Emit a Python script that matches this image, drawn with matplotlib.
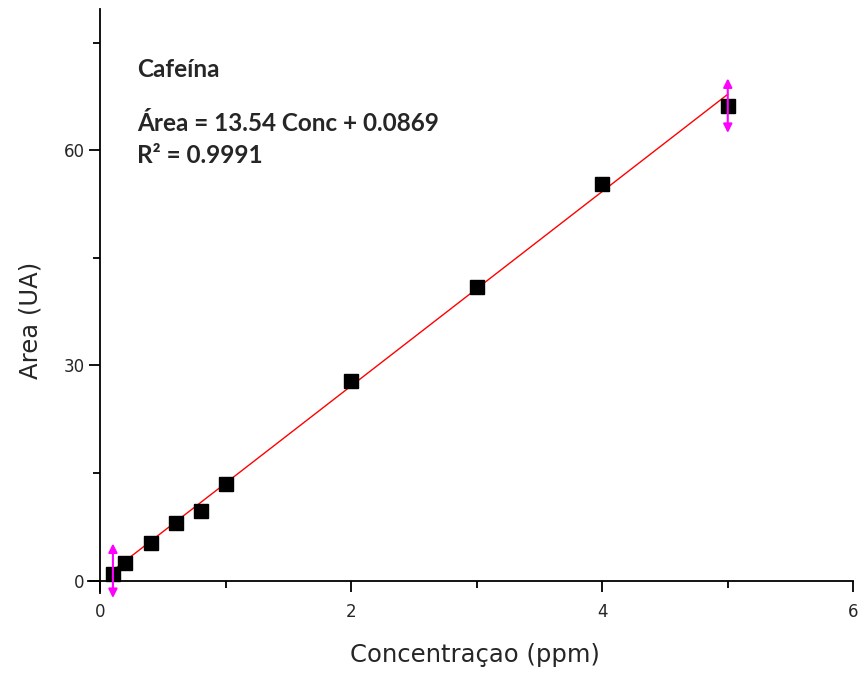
import matplotlib
matplotlib.use("Agg")
from matplotlib import pyplot as plt
from matplotlib.ticker import MultipleLocator
import numpy as np

plt.rcParams['font.family'] = ['DejaVu Sans']

# data
conc = [0.1, 0.2, 0.4, 0.6, 0.8, 1.0, 2.0, 3.0, 4.0, 5.0]
area = [1.0, 2.5, 5.3, 8.1, 9.7, 13.5, 27.8, 40.9, 55.3, 66.2]
slope = 13.54
intercept = 0.0869
fit_range = [0.1, 5.0]

txt_color = '#262626'

fig = plt.figure(figsize=(8.61, 6.75), dpi=100)
ax = fig.add_axes([0.102, 0.1215, 0.889, 0.8655])

xf = np.array(fit_range)
ax.plot(xf, slope * xf + intercept, color='red', lw=1, zorder=2)
ax.plot(conc, area, 's', color='black', ms=9.5, zorder=3)

# fit range markers
for xm, yc in [(0.1, 1.4), (5.0, 66.2)]:
    ax.annotate('', xy=(xm, yc + 3.8), xytext=(xm, yc - 3.8),
                arrowprops=dict(arrowstyle='<|-|>', color='magenta', lw=1.5,
                                mutation_scale=13, shrinkA=0, shrinkB=0),
                annotation_clip=False, zorder=4)

ax.set_xlim(-0.1, 6)
ax.set_ylim(-1.7, 79.7)
ax.spines['left'].set_position(('data', 0))
ax.spines['bottom'].set_position(('data', 0))
ax.spines['top'].set_visible(False)
ax.spines['right'].set_visible(False)
for s in ['left', 'bottom']:
    ax.spines[s].set_linewidth(1.3)

ax.xaxis.set_major_locator(MultipleLocator(2))
ax.xaxis.set_minor_locator(MultipleLocator(1))
ax.yaxis.set_major_locator(MultipleLocator(30))
ax.yaxis.set_minor_locator(MultipleLocator(15))
ax.tick_params(which='major', direction='out', length=8, width=1.3,
               labelsize=12, labelcolor=txt_color)
ax.tick_params(axis='x', which='major', pad=8)
ax.tick_params(which='minor', direction='out', length=5, width=1.3)

fig.text(0.552, 0.030, 'Concentraçao (ppm)', fontsize=17.5, color=txt_color,
         ha='center', va='center')
fig.text(0.035, 0.526, 'Area (UA)', fontsize=17.5, color=txt_color,
         ha='center', va='center', rotation=90)

ax.text(0.29, 71.2, 'Cafeína', fontsize=17.5, fontweight='bold',
        family='Lato', color=txt_color, va='center')
ax.text(0.29, 63.7, 'Área = 13.54 Conc + 0.0869', fontsize=17.5,
        fontweight='bold', family='Lato', color=txt_color, va='center')
ax.text(0.29, 59.2, 'R² = 0.9991', fontsize=17.5, fontweight='bold',
        family='Lato', color=txt_color, va='center')

fig.savefig('out.png', dpi=100)
